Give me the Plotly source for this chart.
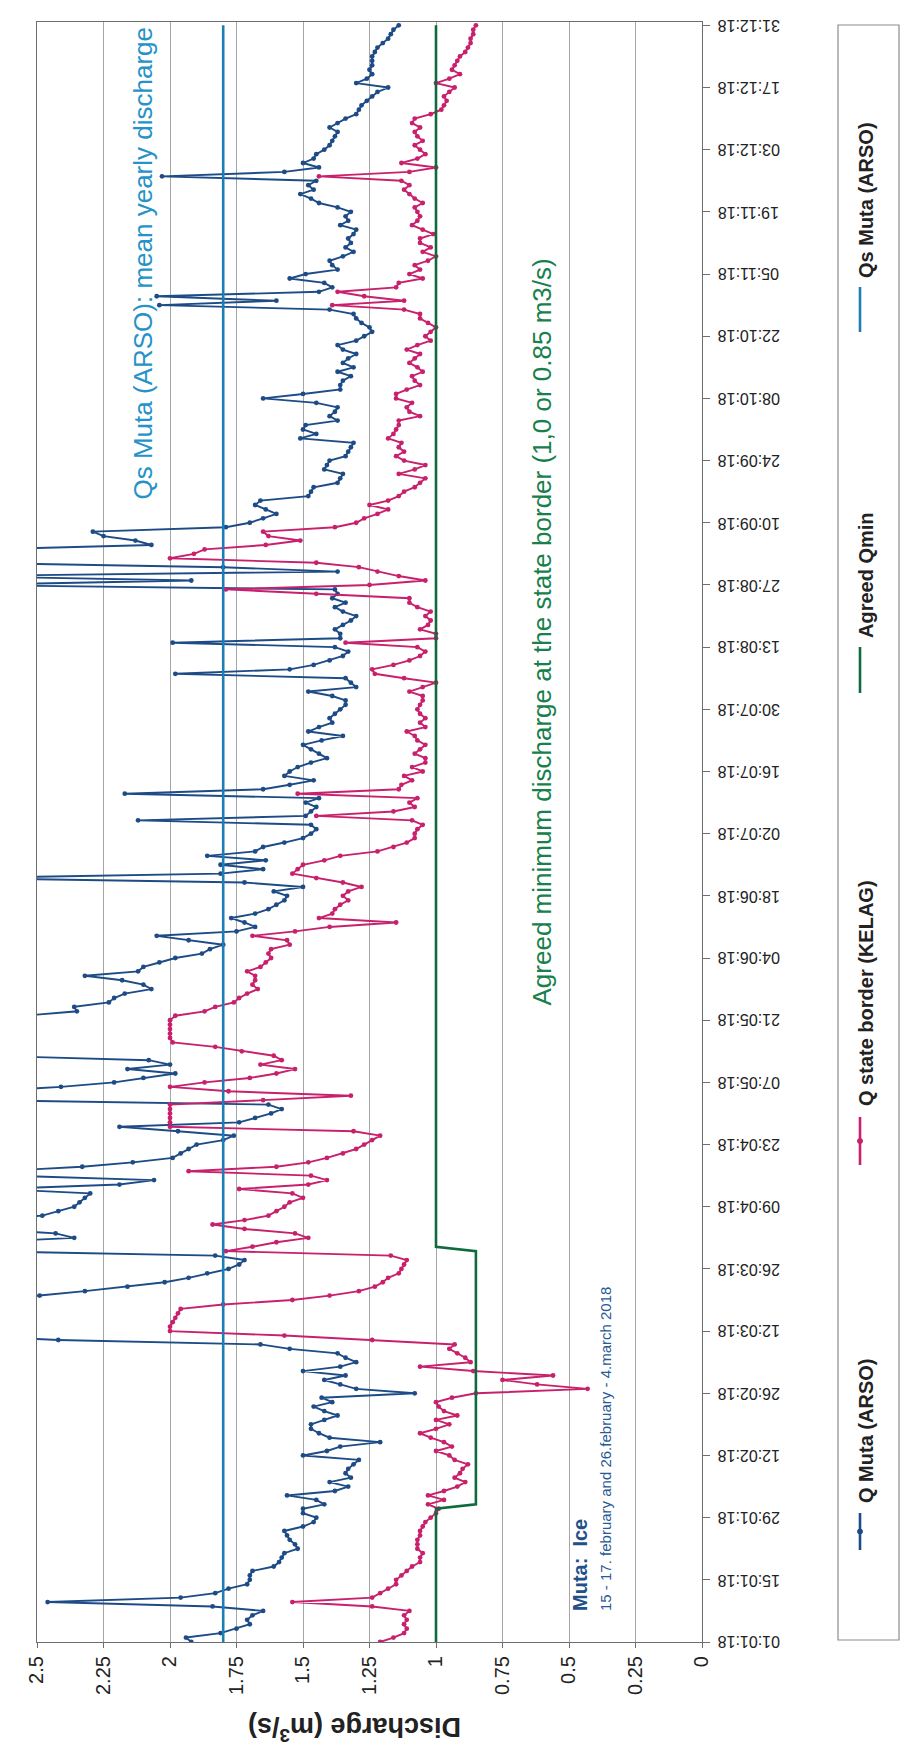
import plotly.graph_objects as go
import pandas as pd

# ---------------- data ----------------
start_date = "2018-01-01"
end_date = "2018-12-31"

# Q Muta (ARSO), daily values 01.01.2018 - 31.12.2018 (m3/s); values > 2.5 run off the chart
q_muta = [
    1.92, 1.94, 1.81, 1.75, 1.70, 1.71, 1.69, 1.65, 1.84, 2.46,
    1.96, 1.83, 1.78, 1.71, 1.70, 1.70, 1.69, 1.61, 1.59, 1.58,
    1.57, 1.52, 1.53, 1.55, 1.56, 1.57, 1.50, 1.46, 1.45, 1.50,
    1.50, 1.42, 1.45, 1.56, 1.38, 1.33, 1.40, 1.32, 1.34, 1.33,
    1.31, 1.29, 1.50, 1.41, 1.36, 1.21, 1.40, 1.44, 1.47, 1.47,
    1.42, 1.37, 1.42, 1.46, 1.39, 1.43, 1.08, 1.30, 1.36, 1.42,
    1.34, 1.50, 1.36, 1.30, 1.34, 1.37, 1.55, 1.66, 2.42, 2.80,
    2.90, 2.95, 2.90, 2.85, 2.90, 2.85, 2.80, 2.70, 2.49, 2.32,
    2.16, 2.02, 1.93, 1.86, 1.78, 1.74, 1.72, 1.83, 2.70, 2.80,
    2.70, 2.36, 2.43, 2.70, 2.80, 2.70, 2.48, 2.42, 2.36, 2.34,
    2.32, 2.30, 2.65, 2.19, 2.06, 2.60, 2.65, 2.33, 2.14, 1.99,
    1.96, 1.93, 1.90, 1.80, 1.76, 1.97, 2.19, 1.74, 1.68, 1.62,
    1.58, 1.63, 2.70, 2.80, 2.70, 2.41, 2.21, 2.10, 1.98, 2.16,
    2.00, 2.08, 2.70, 2.80, 2.75, 2.85, 2.80, 2.70, 2.80, 2.75,
    2.70, 2.55, 2.35, 2.36, 2.23, 2.21, 2.17, 2.07, 2.10, 2.18,
    2.32, 2.12, 2.10, 2.04, 1.98, 1.88, 1.85, 1.80, 1.93, 2.05,
    1.75, 1.68, 1.72, 1.77, 1.68, 1.63, 1.60, 1.57, 1.56, 1.61,
    1.50, 1.72, 2.80, 1.81, 1.65, 1.81, 1.64, 1.86, 1.68, 1.65,
    1.57, 1.50, 1.47, 1.45, 1.47, 2.12, 1.49, 1.47, 1.45, 1.49,
    1.44, 2.17, 1.65, 1.55, 1.46, 1.57, 1.55, 1.52, 1.47, 1.41,
    1.44, 1.47, 1.50, 1.43, 1.35, 1.48, 1.44, 1.39, 1.40, 1.38,
    1.36, 1.34, 1.34, 1.39, 1.48, 1.30, 1.32, 1.34, 1.98, 1.55,
    1.46, 1.40, 1.35, 1.33, 1.38, 1.99, 1.36, 1.36, 1.38, 1.35,
    1.32, 1.30, 1.35, 1.38, 1.34, 1.39, 1.37, 1.38, 2.80, 1.92,
    2.80, 1.37, 1.80, 2.80, 2.85, 2.80, 2.70, 2.07, 2.13, 2.25,
    2.29, 1.79, 1.70, 1.65, 1.60, 1.64, 1.68, 1.66, 1.48, 1.47,
    1.46, 1.37, 1.36, 1.35, 1.42, 1.41, 1.40, 1.34, 1.33, 1.32,
    1.31, 1.51, 1.45, 1.50, 1.49, 1.37, 1.40, 1.38, 1.37, 1.45,
    1.65, 1.50, 1.36, 1.36, 1.35, 1.32, 1.37, 1.31, 1.35, 1.33,
    1.30, 1.35, 1.37, 1.30, 1.27, 1.24, 1.25, 1.28, 1.30, 1.31,
    1.40, 2.04, 1.60, 2.05, 1.44, 1.39, 1.42, 1.55, 1.49, 1.37,
    1.39, 1.40, 1.35, 1.31, 1.34, 1.32, 1.33, 1.31, 1.30, 1.36,
    1.33, 1.34, 1.32, 1.37, 1.44, 1.47, 1.51, 1.46, 1.48, 1.45,
    2.03, 1.57, 1.44, 1.50, 1.46, 1.45, 1.42, 1.40, 1.39, 1.38,
    1.37, 1.40, 1.37, 1.34, 1.30, 1.29, 1.28, 1.26, 1.24, 1.22,
    1.18, 1.30, 1.26, 1.24, 1.25, 1.24, 1.24, 1.24, 1.23, 1.22,
    1.20, 1.18, 1.17, 1.16, 1.14,
]

# Q state border (KELAG), daily values (m3/s)
q_border = [
    1.21, 1.16, 1.12, 1.11, 1.12, 1.11, 1.12, 1.10, 1.24, 1.54,
    1.24, 1.21, 1.18, 1.15, 1.15, 1.13, 1.11, 1.09, 1.06, 1.06,
    1.05, 1.07, 1.07, 1.07, 1.06, 1.06, 1.05, 1.04, 1.02, 1.00,
    0.99, 1.03, 0.97, 1.03, 0.97, 0.92, 0.89, 0.93, 0.91, 0.90,
    0.88, 0.93, 0.95, 1.00, 0.94, 0.97, 1.02, 1.06, 1.00, 0.95,
    1.00, 0.92, 0.97, 0.99, 1.00, 0.94, 0.85, 0.43, 0.62, 0.75,
    0.56, 0.86, 1.06, 0.87, 0.89, 0.92, 0.95, 0.93, 1.24, 1.57,
    2.00, 2.00, 1.99, 1.98, 1.97, 1.96, 1.80, 1.54, 1.40, 1.29,
    1.23, 1.20, 1.18, 1.14, 1.13, 1.12, 1.11, 1.17, 1.79, 1.69,
    1.60, 1.48, 1.53, 1.72, 1.84, 1.72, 1.63, 1.60, 1.57, 1.55,
    1.50, 1.54, 1.74, 1.48, 1.41, 1.47, 1.93, 1.60, 1.48, 1.41,
    1.35, 1.30, 1.27, 1.24, 1.21, 1.31, 2.00, 2.00, 2.00, 2.00,
    2.00, 2.00, 1.65, 1.32, 1.78, 2.00, 1.87, 1.70, 1.60, 1.53,
    1.66, 1.58, 1.61, 1.73, 1.83, 1.99, 2.00, 2.00, 2.00, 2.00,
    2.00, 1.98, 1.87, 1.83, 1.76, 1.74, 1.71, 1.67, 1.69, 1.68,
    1.68, 1.71, 1.66, 1.64, 1.62, 1.63, 1.62, 1.55, 1.56, 1.69,
    1.53, 1.40, 1.15, 1.44, 1.39, 1.38, 1.36, 1.33, 1.35, 1.33,
    1.28, 1.35, 1.45, 1.54, 1.52, 1.50, 1.42, 1.36, 1.22, 1.16,
    1.11, 1.08, 1.08, 1.07, 1.05, 1.09, 1.45, 1.16, 1.08, 1.10,
    1.07, 1.52, 1.14, 1.13, 1.09, 1.12, 1.05, 1.09, 1.04, 1.04,
    1.08, 1.06, 1.04, 1.07, 1.08, 1.11, 1.04, 1.06, 1.04, 1.06,
    1.07, 1.06, 1.05, 1.05, 1.10, 1.05, 1.00, 1.12, 1.23, 1.24,
    1.16, 1.10, 1.06, 1.04, 1.07, 1.34, 1.00, 1.00, 1.06, 1.03,
    1.02, 1.04, 1.02, 1.07, 1.10, 1.10, 1.45, 1.79, 1.25, 1.04,
    1.14, 1.22, 1.29, 1.45, 2.00, 1.91, 1.87, 1.64, 1.51, 1.63,
    1.65, 1.38, 1.30, 1.27, 1.22, 1.18, 1.25, 1.18, 1.14, 1.12,
    1.08, 1.06, 1.04, 1.14, 1.08, 1.04, 1.12, 1.15, 1.12, 1.14,
    1.13, 1.18, 1.16, 1.15, 1.14, 1.14, 1.06, 1.10, 1.11, 1.09,
    1.15, 1.15, 1.11, 1.06, 1.08, 1.09, 1.05, 1.07, 1.10, 1.08,
    1.06, 1.11, 1.07, 1.02, 1.04, 1.02, 1.00, 1.03, 1.06, 1.06,
    1.12, 1.39, 1.12, 1.27, 1.37, 1.15, 1.14, 1.05, 1.10, 1.06,
    1.08, 1.03, 1.00, 1.05, 1.02, 1.06, 1.06, 1.01, 1.05, 1.09,
    1.07, 1.06, 1.07, 1.08, 1.05, 1.08, 1.10, 1.12, 1.10, 1.13,
    1.44, 1.10, 1.00, 1.13, 1.07, 1.04, 1.06, 1.08, 1.05, 1.07,
    1.08, 1.06, 1.09, 1.08, 1.02, 0.98, 0.97, 0.96, 0.97, 0.95,
    0.93, 1.00, 0.95, 0.91, 0.94, 0.93, 0.92, 0.91, 0.89, 0.88,
    0.87, 0.87, 0.86, 0.86, 0.85,
]

# Agreed Qmin (step line): day offsets from 01.01.2018 and values
qmin_days = [0, 30, 31, 88, 89, 364]
qmin_values = [1.0, 1.0, 0.85, 0.85, 1.0, 1.0]

# Qs Muta (ARSO): mean yearly discharge
qs_days = [0, 364]
qs_values = [1.8, 1.8]

x_tick_vals = [2.5, 2.25, 2.0, 1.75, 1.5, 1.25, 1.0, 0.75, 0.5, 0.25, 0.0]
x_tick_text = ["2.5", "2.25", "2", "1.75", "1.5", "1.25", "1", "0.75", "0.5", "0.25", "0"]
date_tick_step_days = 14

legend_labels = ["Q Muta (ARSO)", "Q state border (KELAG)", "Agreed Qmin", "Qs Muta (ARSO)"]

# ---------------- styling ----------------
C_MUTA = "#1d4b86"
C_BORDER = "#c8206c"
C_QMIN = "#0f6b3c"
C_QS = "#1f7db6"
C_QS_TXT = "#2592c8"
C_QMIN_TXT = "#17804b"
FONT = "Liberation Sans, Arial, sans-serif"

W, H = 906, 1746
L, R, T, B = 37, 204, 22, 104
PW, PH = W - L - R, H - T - B


def px(xp):
    return (xp - L) / PW


def py(yp):
    return (H - B - yp) / PH


base = pd.Timestamp(start_date)
dates = pd.date_range(start_date, periods=len(q_muta), freq="D")
qmin_dates = [base + pd.Timedelta(days=d) for d in qmin_days]
qs_dates = [base + pd.Timedelta(days=d) for d in qs_days]
tick_dates = pd.date_range(start_date, end_date, freq=f"{date_tick_step_days}D")

fig = go.Figure()
fig.add_trace(go.Scatter(x=q_muta, y=dates, mode="lines+markers", name=legend_labels[0],
                         line=dict(color=C_MUTA, width=1.9),
                         marker=dict(size=4.8, color=C_MUTA)))
fig.add_trace(go.Scatter(x=q_border, y=dates, mode="lines+markers", name=legend_labels[1],
                         line=dict(color=C_BORDER, width=1.9),
                         marker=dict(size=4.8, color=C_BORDER)))
fig.add_trace(go.Scatter(x=qmin_values, y=qmin_dates, mode="lines", name=legend_labels[2],
                         line=dict(color=C_QMIN, width=2.6)))
fig.add_trace(go.Scatter(x=qs_values, y=qs_dates, mode="lines", name=legend_labels[3],
                         line=dict(color=C_QS, width=2.6)))

fig.update_layout(
    width=W, height=H,
    margin=dict(l=L, r=R, t=T, b=B),
    paper_bgcolor="white", plot_bgcolor="white",
    showlegend=False,
    font=dict(family=FONT, color="#222222"),
    xaxis=dict(
        range=[2.5, 0], tickvals=x_tick_vals, ticktext=x_tick_text, tickangle=-90,
        showgrid=True, gridcolor="#a6a6a6", gridwidth=1, zeroline=False,
        showline=True, linecolor="#6e6e6e", linewidth=1.2, mirror=True,
        ticks="outside", ticklen=5, tickcolor="#6e6e6e",
        tickfont=dict(size=20, family=FONT, color="#222222"),
    ),
    yaxis=dict(
        type="date", range=["2018-01-01", "2018-12-31 18:00"], side="right",
        tickvals=list(tick_dates), showticklabels=False,
        showgrid=False, zeroline=False,
        showline=True, linecolor="#6e6e6e", linewidth=1.2, mirror=True,
        ticks="outside", ticklen=7, tickcolor="#6e6e6e",
    ),
)

ann = []
# date tick labels (upside down, as in the rotated original)
for d in tick_dates:
    ann.append(dict(x=1, y=d, xref="paper", yref="y", showarrow=False,
                    text=d.strftime("%d:%m:%y"), textangle=180,
                    xanchor="left", yanchor="middle", xshift=14,
                    font=dict(size=16, family=FONT, color="#222222")))
# axis title (upside down)
ann.append(dict(x=px(355), y=py(1729), xref="paper", yref="paper", showarrow=False,
                text="<b>Discharge (m<sup>3</sup>/s)</b>", textangle=180,
                font=dict(size=27, family=FONT, color="#222222"),
                xanchor="center", yanchor="middle"))
# in-plot annotations
ann.append(dict(x=px(142), y=py(502), xref="paper", yref="paper", showarrow=False,
                text="Qs Muta (ARSO): mean yearly discharge", textangle=-90,
                font=dict(size=26, family=FONT, color=C_QS_TXT),
                xanchor="center", yanchor="bottom"))
ann.append(dict(x=px(541), y=py(1008), xref="paper", yref="paper", showarrow=False,
                text="Agreed minimum discharge at the state border (1,0 or 0.85 m3/s)", textangle=-90,
                font=dict(size=26, family=FONT, color=C_QMIN_TXT),
                xanchor="center", yanchor="bottom"))
ann.append(dict(x=px(580), y=py(1613), xref="paper", yref="paper", showarrow=False,
                text="<b>Muta:&nbsp;&nbsp;Ice</b>", textangle=-90,
                font=dict(size=20, family=FONT, color="#22508a"),
                xanchor="center", yanchor="bottom"))
ann.append(dict(x=px(605), y=py(1613), xref="paper", yref="paper", showarrow=False,
                text="15 - 17. february and 26.february - 4.march 2018", textangle=-90,
                font=dict(size=15, family=FONT, color="#2a5a95"),
                xanchor="center", yanchor="bottom"))

# legend (rotated, on the right)
shapes = [dict(type="rect", xref="paper", yref="paper", x0=px(838), x1=px(899), y0=py(1640), y1=py(25),
               line=dict(color="#8c8c8c", width=1.2), fillcolor="rgba(0,0,0,0)")]
leg_items = [
    (legend_labels[0], C_MUTA, True, 1550, 1513, 1505),
    (legend_labels[1], C_BORDER, True, 1165, 1117, 1108),
    (legend_labels[2], C_QMIN, False, 693, 647, 640),
    (legend_labels[3], C_QS, False, 332, 287, 280),
]
for label, col, has_marker, s0, s1, tstart in leg_items:
    shapes.append(dict(type="line", xref="paper", yref="paper", x0=px(860), x1=px(860),
                       y0=py(s0), y1=py(s1), line=dict(color=col, width=2.6)))
    if has_marker:
        mid = (s0 + s1) / 2
        shapes.append(dict(type="circle", xref="paper", yref="paper",
                           x0=px(857.5), x1=px(862.5), y0=py(mid + 2.5), y1=py(mid - 2.5),
                           fillcolor=col, line=dict(color=col, width=1)))
    ann.append(dict(x=px(866), y=py(tstart), xref="paper", yref="paper", showarrow=False,
                    text="<b>" + label + "</b>", textangle=-90,
                    font=dict(size=20, family=FONT, color="#222222"),
                    xanchor="center", yanchor="bottom"))

fig.update_layout(annotations=ann, shapes=shapes)
fig.write_html("out.html")
